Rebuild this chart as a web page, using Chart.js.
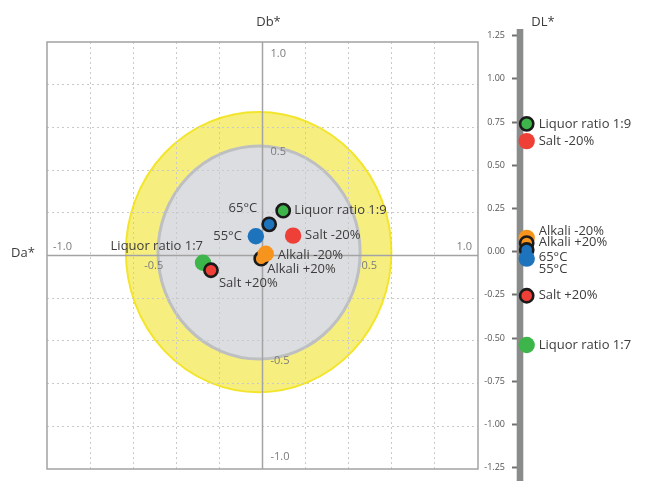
<!DOCTYPE html>
<html>
<head>
<meta charset="utf-8">
<script src="https://cdn.jsdelivr.net/npm/chart.js@4/dist/chart.umd.min.js"></script>
<style>
  html, body { margin: 0; padding: 0; background: #fff; }
  #wrap { position: relative; width: 646px; height: 481px; }
  #wrap canvas { position: absolute; left: 0; top: 0; }
</style>
</head>
<body>
<div id="wrap">
  <canvas id="abChart" width="646" height="481"></canvas>
  <canvas id="dlChart" width="646" height="481"></canvas>
</div>
<script>
'use strict';

// ── Data ─────────────────────────────────────────────────────────────
const SAMPLES  = ['Liquor ratio 1:9', '65°C', '55°C', 'Salt -20%', 'Alkali +20%', 'Alkali -20%', 'Liquor ratio 1:7', 'Salt +20%'];
const DA       = [0.096, 0.031, -0.031, 0.142, -0.006, 0.015, -0.276, -0.239];
const DB       = [0.210, 0.146, 0.090, 0.093, -0.015, 0.008, -0.034, -0.069];
const DL       = [0.74, 0.01, -0.04, 0.64, 0.05, 0.08, -0.54, -0.255];
const OUTLINED = [true, true, false, false, true, false, false, true];

const AB_TICKS = [-1.0, -0.5, 0.5, 1.0];
const DL_RANGE = [-1.25, 1.25];

// tolerance rings around the standard (a*, b* units)
const RING_OUTER = { cx: -0.018, cy: 0.016, rx: 0.616, ry: 0.656 };
const RING_INNER = { cx: -0.016, cy: 0.014, rx: 0.469, ry: 0.499 };

// ── Styles ───────────────────────────────────────────────────────────
const GREEN = '#3db54b', RED = '#ee4036', BLUE = '#1d74bd', ORANGE = '#f7941e';
const SAMPLE_COLORS = [GREEN, BLUE, BLUE, RED, ORANGE, ORANGE, GREEN, RED];
const TEXT  = '#3c3c3c';
const FONT  = '"Open Sans", "DejaVu Sans", sans-serif';

// label placement next to each point: [dx, dy, align]
const AB_LABEL_POS = [
  [11, 0, 'left'], [-12, -16, 'right'], [-14, 0, 'right'], [12, 0, 'left'],
  [6, 11, 'left'], [12, 2, 'left'], [0, -16, 'right'], [8, 13, 'left'],
];
const DL_LABEL_DY = [0, 7, 11, 0, -1, -7, 0, 0];

const pointStyle = idx => ({
  pointBackgroundColor: idx.map(i => SAMPLE_COLORS[i]),
  pointBorderColor: '#1a1a1a',
  pointBorderWidth: idx.map(i => OUTLINED[i] ? 2.6 : 0),
  pointRadius: idx.map(i => OUTLINED[i] ? 6.6 : 8.2),
  pointHoverRadius: idx.map(i => OUTLINED[i] ? 6.6 : 8.2),
});


// ── Helpers ───────────────────────────────────────────────────────────
function drawEllipse(ctx, x, y, r, fill, stroke, width) {
  const cx = x.getPixelForValue(r.cx), cy = y.getPixelForValue(r.cy);
  const rx = Math.abs(x.getPixelForValue(r.cx + r.rx) - cx);
  const ry = Math.abs(y.getPixelForValue(r.cy + r.ry) - cy);
  ctx.beginPath();
  ctx.ellipse(cx, cy, rx, ry, 0, 0, Math.PI * 2);
  ctx.fillStyle = fill;
  ctx.fill();
  ctx.lineWidth = width;
  ctx.strokeStyle = stroke;
  ctx.stroke();
}

function text(ctx, str, px, py, align, font, color) {
  ctx.font = font;
  ctx.fillStyle = color;
  ctx.textAlign = align;
  ctx.textBaseline = 'middle';
  ctx.fillText(str, px, py);
}


// ── a*/b* plane ───────────────────────────────────────────────────────
const abDecor = {
  id: 'abDecor',
  beforeDraw(chart) {
    const { ctx, scales: { x, y } } = chart;
    ctx.save();
    drawEllipse(ctx, x, y, RING_OUTER, '#f6ef80', '#f3e52c', 2);
    drawEllipse(ctx, x, y, RING_INNER, '#dcdde0', '#bebfc1', 3);
    ctx.restore();
  },
  beforeDatasetsDraw(chart) {
    const { ctx, chartArea: a, scales: { x, y } } = chart;
    const x0 = x.getPixelForValue(0), y0 = y.getPixelForValue(0);
    ctx.save();
    ctx.strokeStyle = '#a3a3a3';
    ctx.lineWidth = 1.5;
    ctx.beginPath();
    ctx.moveTo(x0, a.top);  ctx.lineTo(x0, a.bottom);
    ctx.moveTo(a.left, y0); ctx.lineTo(a.right, y0);
    ctx.stroke();
    ctx.strokeRect(a.left, a.top, a.right - a.left, a.bottom - a.top);

    const tickFont = `11px ${FONT}`, tickColor = '#7b7b7b';
    AB_TICKS.forEach(v => {
      const label = v.toFixed(1);
      const px = x.getPixelForValue(v), py = y.getPixelForValue(v);
      if (Math.abs(v) === 1) {
        text(ctx, label, px + (v < 0 ? 6 : -6), y0 - 9, v < 0 ? 'left' : 'right', tickFont, tickColor);
        text(ctx, label, x0 + 8, py + (v > 0 ? 12 : -12), 'left', tickFont, tickColor);
      } else {
        text(ctx, label, px - 1, y0 + 10, 'center', tickFont, tickColor);
        text(ctx, label, x0 + 8, py + (v > 0 ? 3 : -1), 'left', tickFont, tickColor);
      }
    });

    text(ctx, 'Db*', x0 + 6, a.top - 20, 'center', `13px ${FONT}`, TEXT);
    text(ctx, 'Da*', a.left - 24, y0 - 2, 'center', `13px ${FONT}`, TEXT);
    ctx.restore();
  },
  afterDatasetsDraw(chart) {
    const { ctx } = chart;
    const pts = chart.getDatasetMeta(0).data;
    ctx.save();
    SAMPLES.forEach((name, i) => {
      const [dx, dy, align] = AB_LABEL_POS[i];
      text(ctx, name, pts[i].x + dx, pts[i].y + dy, align, `13px ${FONT}`, TEXT);
    });
    ctx.restore();
  },
};

const gridColor = ctx => {
  const v = ctx.tick ? ctx.tick.value : 0;
  return (Math.abs(v) < 1e-9 || Math.abs(Math.abs(v) - 1) < 1e-9) ? 'rgba(0,0,0,0)' : '#c9c9c9';
};

const abIdx = SAMPLES.map((_, i) => i);
new Chart(document.getElementById('abChart'), {
  type: 'scatter',
  data: {
    datasets: [{
      data: abIdx.map(i => ({ x: DA[i], y: DB[i] })),
      clip: false,
      ...pointStyle(abIdx),
    }],
  },
  options: {
    responsive: false,
    animation: false,
    devicePixelRatio: 1,
    events: [],
    layout: { padding: { left: 47, right: 168, top: 42, bottom: 12 } },
    plugins: { legend: { display: false }, tooltip: { enabled: false } },
    scales: {
      x: {
        type: 'linear', min: -1, max: 1,
        ticks: { display: false, stepSize: 0.2 },
        grid: { color: gridColor, drawTicks: false, lineWidth: 1 },
        border: { display: false, dash: [2, 3] },
      },
      y: {
        type: 'linear', min: -1, max: 1,
        ticks: { display: false, stepSize: 0.2 },
        grid: { color: gridColor, drawTicks: false, lineWidth: 1 },
        border: { display: false, dash: [2, 3] },
      },
    },
  },
  plugins: [abDecor],
});


// ── DL* strip ─────────────────────────────────────────────────────────
const dlIdx = SAMPLES.map((_, i) => i).sort((a, b) => DL[b] - DL[a]);

const dlDecor = {
  id: 'dlDecor',
  beforeDatasetsDraw(chart) {
    const { ctx, scales: { y } } = chart;
    const cx = y.right;
    ctx.save();
    ctx.fillStyle = '#8a8c8b';
    ctx.fillRect(cx - 3.3, 29, 6.6, chart.height - 29);
    text(ctx, 'DL*', cx + 23, 22, 'center', `13px ${FONT}`, TEXT);
    ctx.restore();
  },
  afterDatasetsDraw(chart) {
    const { ctx } = chart;
    const pts = chart.getDatasetMeta(0).data;
    ctx.save();
    dlIdx.forEach((s, k) => {
      text(ctx, SAMPLES[s], pts[k].x + 12, pts[k].y + DL_LABEL_DY[s], 'left', `13px ${FONT}`, TEXT);
    });
    ctx.restore();
  },
};

new Chart(document.getElementById('dlChart'), {
  type: 'scatter',
  data: {
    datasets: [{
      data: dlIdx.map(i => ({ x: 0, y: DL[i] })),
      clip: false,
      ...pointStyle(dlIdx),
    }],
  },
  options: {
    responsive: false,
    animation: false,
    devicePixelRatio: 1,
    events: [],
    layout: { padding: { left: 470, right: 112.6, top: 35.7, bottom: 13.3 } },
    plugins: { legend: { display: false }, tooltip: { enabled: false } },
    scales: {
      x: { type: 'linear', min: -1, max: 1, display: false },
      y: {
        type: 'linear', position: 'left',
        min: DL_RANGE[0], max: DL_RANGE[1],
        afterFit: scale => { scale.width = 50; },
        ticks: {
          stepSize: 0.25,
          padding: 7,
          color: '#555',
          font: { family: FONT, size: 9 },
          callback: v => Number(v).toFixed(2),
        },
        grid: { drawOnChartArea: false, drawTicks: true, tickLength: 8, tickWidth: 2, tickColor: '#707070' },
        border: { display: false },
      },
    },
  },
  plugins: [dlDecor],
});
</script>
</body>
</html>
